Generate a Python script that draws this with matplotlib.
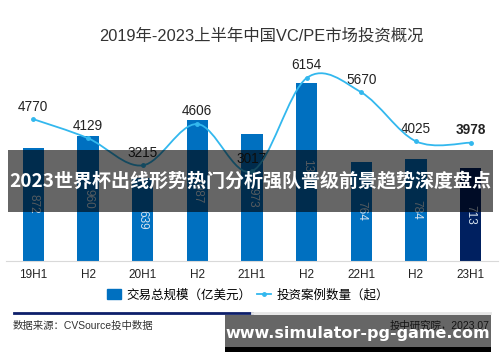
import matplotlib
matplotlib.use("Agg")
import matplotlib.pyplot as plt
import numpy as np
from matplotlib.path import Path
from matplotlib.patches import PathPatch, Rectangle, Patch
from matplotlib.lines import Line2D

plt.rcParams["font.family"] = ["Liberation Sans", "Noto Sans CJK SC", "DejaVu Sans"]

title = "2019年-2023上半年中国VC/PE市场投资概况"
periods = ["19H1", "H2", "20H1", "H2", "21H1", "H2", "22H1", "H2", "23H1"]
deal_size = [872, 960, 639, 1087, 973, 1366, 764, 784, 713]      # 亿美元
deal_count = [4770, 4129, 3215, 4606, 3017, 6154, 5670, 4025, 3978]  # 起
bar_label = "交易总规模（亿美元）"
line_label = "投资案例数量（起）"
source = "数据来源：CVSource投中数据"
publisher = "投中研究院，2023.07"
banner = "2023世界杯出线形势热门分析强队晋级前景趋势深度盘点"
watermark = "www.simulator-pg-game.com"

BAR = "#0070C0"
BAR_LAST = "#002060"
LINE = "#33B8EE"


def smooth_path(xs, ys, t=1 / 6):
    # Catmull-Rom through the data points, as cubic Bezier segments
    xs = np.asarray(xs, float)
    ys = np.asarray(ys, float)
    n = len(xs)
    verts = [(xs[0], ys[0])]
    codes = [Path.MOVETO]
    for i in range(n - 1):
        p0 = max(i - 1, 0)
        p3 = min(i + 2, n - 1)
        c1 = (xs[i] + (xs[i + 1] - xs[p0]) * t, ys[i] + (ys[i + 1] - ys[p0]) * t)
        c2 = (xs[i + 1] - (xs[p3] - xs[i]) * t, ys[i + 1] - (ys[p3] - ys[i]) * t)
        verts += [c1, c2, (xs[i + 1], ys[i + 1])]
        codes += [Path.CURVE4] * 3
    return Path(verts, codes)


fig = plt.figure(figsize=(5, 3.62), dpi=100)
ax = fig.add_axes([0.012, 0.279, 0.984, 0.575])
x = np.arange(len(periods))
colors = [BAR] * (len(periods) - 1) + [BAR_LAST]
bars = ax.bar(x, deal_size, width=0.39, color=colors, zorder=2)
for b, v in zip(bars, deal_size):
    ax.text(b.get_x() + b.get_width() / 2, v / 2, str(v), rotation=-90,
            ha="center", va="center", fontsize=8.5, color="#d5e2ee", zorder=3)
ax.set_ylim(0, 1600)
ax.set_xlim(-0.5, len(periods) - 0.5)
ax.set_xticks(x)
ax.set_xticklabels(periods, fontsize=8.5, color="#222222")
ax.tick_params(axis="x", length=0, pad=6)
ax.set_yticks([])
for s in ["top", "left", "right"]:
    ax.spines[s].set_visible(False)
ax.spines["bottom"].set_color("#d9d9d9")

ax2 = ax.twinx()
ax2.set_ylim(0, 7000)
ax2.set_yticks([])
for s in ax2.spines.values():
    s.set_visible(False)
ax2.add_patch(PathPatch(smooth_path(x, deal_count), fill=False, edgecolor=LINE,
                        lw=1.3, zorder=4))
ax2.plot(x, deal_count, "o", ms=2.5, color=LINE, zorder=5)
for i, v in enumerate(deal_count):
    ax2.annotate(str(v), (x[i], v), xytext=(0, 4), textcoords="offset points",
                 ha="center", va="bottom", fontsize=9.8, color="#222222",
                 fontweight="bold" if i == len(deal_count) - 1 else "normal")

fig.text(0.522, 0.902, title, ha="center", va="center", fontsize=11.8, color="#333333")

handles = [Patch(color=BAR),
           Line2D([], [], color=LINE, marker="o", ms=2.5, lw=1.3)]
fig.legend(handles, [bar_label, line_label], loc="center", bbox_to_anchor=(0.496, 0.185),
           ncol=2, frameon=False, fontsize=9, handlelength=1.1, handleheight=0.9,
           handletextpad=0.4, columnspacing=0.5)

fig.add_artist(Line2D([0.028, 0.504], [0.135, 0.135], color="#0d1f6a", lw=2))
fig.add_artist(Line2D([0.504, 0.98], [0.135, 0.135], color="#e6e6e6", lw=2))
fig.text(0.026, 0.1, source, ha="left", va="center", fontsize=7.5, color="#333333")
fig.text(0.98, 0.1, publisher, ha="right", va="center", fontsize=7.5, color="#333333")

# overlay banner and watermark
fig.add_artist(Rectangle((0.016, 0.4144), 0.97, 0.171, transform=fig.transFigure,
                         facecolor="black", alpha=0.6, lw=0, zorder=10))
fig.text(0.501, 0.5, banner, ha="center", va="center", fontsize=13.7, color="white",
         fontweight="bold", family=["Noto Sans CJK SC"], zorder=11)
fig.add_artist(Rectangle((0.45, 0.0414), 0.532, 0.0884, transform=fig.transFigure,
                         facecolor="black", alpha=0.6, lw=0, zorder=10))
fig.add_artist(Rectangle((0.45, 0.0276), 0.532, 0.0138, transform=fig.transFigure,
                         facecolor="black", lw=0, zorder=10))
fig.text(0.716, 0.08, watermark, ha="center", va="center", fontsize=11.5, color="white",
         fontweight="bold", family=["DejaVu Sans"], zorder=11)

fig.savefig("out.png", dpi=100)
